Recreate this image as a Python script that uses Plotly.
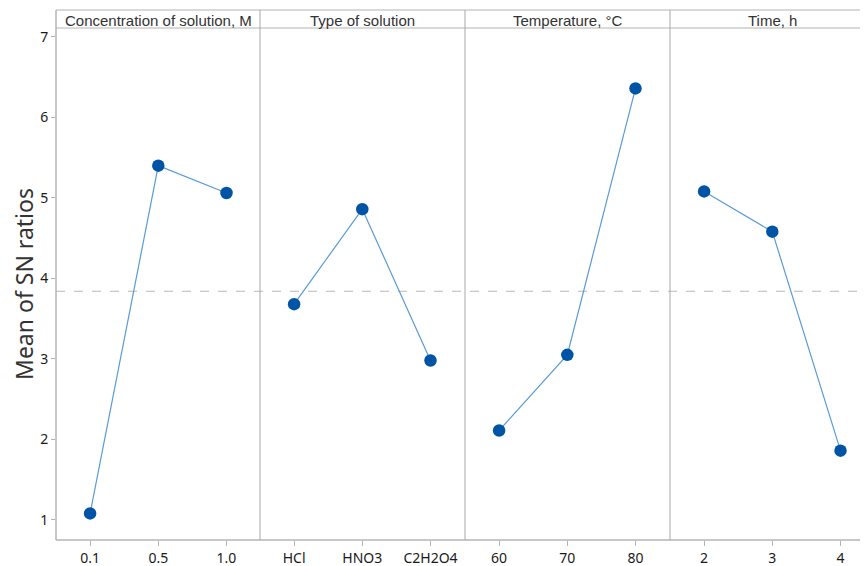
import plotly.graph_objects as go

# ---- data ----
panel_titles = ["Concentration of solution, M", "Type of solution", "Temperature, °C", "Time, h"]
conc_levels = ["0.1", "0.5", "1.0"]
conc_sn = [1.08, 5.40, 5.06]
type_levels = ["HCl", "HNO3", "C2H2O4"]
type_sn = [3.68, 4.86, 2.98]
temp_levels = ["60", "70", "80"]
temp_sn = [2.11, 3.05, 6.36]
time_levels = ["2", "3", "4"]
time_sn = [5.08, 4.58, 1.86]
overall_mean = 3.84
y_ticks = [1, 2, 3, 4, 5, 6, 7]

levels = [conc_levels, type_levels, temp_levels, time_levels]
values = [conc_sn, type_sn, temp_sn, time_sn]

# page body has an 8px default margin; compensate
OFF = 8
W, H = 868 - OFF, 566 - OFF
ML, MR, MT, MB = 56 - OFF, 0, 10 - OFF, 26
pw = W - ML - MR
ph = H - MT - MB
edges_px = [56, 260, 465, 670, 868]
dom = [((edges_px[i] - 56) / pw, (edges_px[i + 1] - 56) / pw) for i in range(4)]
header_y = (ph - 18) / ph

grid_col = "#b4b4b4"
div_col = "#a8a8a8"
font_fam = "Noto Sans, Open Sans, sans-serif"

fig = go.Figure()
for i in range(4):
    xa = "x" if i == 0 else f"x{i+1}"
    fig.add_trace(go.Scatter(
        x=levels[i], y=values[i], xaxis=xa, yaxis="y",
        mode="lines+markers",
        line=dict(color="#5b9bd5", width=1.2),
        marker=dict(color="#0054a6", size=12.5),
        showlegend=False, hoverinfo="x+y",
    ))

layout = dict(
    width=W, height=H,
    margin=dict(l=ML, r=MR, t=MT, b=MB),
    paper_bgcolor="white", plot_bgcolor="white",
    showlegend=False,
    yaxis=dict(
        domain=[0, header_y], range=[0.75, 7.11],
        tickvals=y_ticks, ticks="outside", ticklen=4, tickcolor=grid_col,
        showgrid=False, zeroline=False, showline=False,
        tickfont=dict(family=font_fam, size=14, color="#1a1a1a"),
        title=dict(text="Mean of SN ratios", font=dict(family=font_fam, size=23, color="#333"), standoff=10),
        anchor="x",
    ),
)
for i in range(4):
    key = "xaxis" if i == 0 else f"xaxis{i+1}"
    width_px = edges_px[i + 1] - edges_px[i]
    rng = [-0.5, -0.5 + width_px / 68.2]
    layout[key] = dict(
        domain=list(dom[i]), type="category", range=rng,
        anchor="y", ticks="outside", ticklen=5, tickcolor=grid_col,
        showgrid=False, zeroline=False, showline=False,
        tickfont=dict(family=font_fam, size=14, color="#1a1a1a"),
    )
fig.update_layout(**layout)

shapes = []
shapes.append(dict(type="line", xref="paper", yref="paper", x0=0, x1=1, y0=0, y1=0, line=dict(color=grid_col, width=1.5)))
shapes.append(dict(type="line", xref="paper", yref="paper", x0=0, x1=1, y0=1, y1=1, line=dict(color=grid_col, width=1)))
shapes.append(dict(type="line", xref="paper", yref="paper", x0=0, x1=1, y0=header_y, y1=header_y, line=dict(color=grid_col, width=1)))
shapes.append(dict(type="line", xref="paper", yref="paper", x0=0, x1=0, y0=0, y1=1, line=dict(color=grid_col, width=1.5)))
for i in range(1, 4):
    shapes.append(dict(type="line", xref="paper", yref="paper", x0=dom[i][0], x1=dom[i][0], y0=0, y1=1,
                       line=dict(color=div_col, width=1)))
shapes.append(dict(type="line", xref="paper", yref="y", x0=0, x1=1, y0=overall_mean, y1=overall_mean,
                   line=dict(color="#b8b8b8", width=1, dash="dash"), layer="below"))
fig.update_layout(shapes=shapes)

annotations = []
for i in range(4):
    x0 = (edges_px[i] - 56) / pw
    x1 = (edges_px[i] + 205 - 56) / pw
    annotations.append(dict(
        text=panel_titles[i], xref="paper", yref="paper", x=(x0 + x1) / 2, y=(1 + header_y) / 2,
        xanchor="center", yanchor="middle", showarrow=False, yshift=-1.5,
        font=dict(family="Liberation Sans, Arial, sans-serif", size=15, color="#333"),
    ))
fig.update_layout(annotations=annotations)

fig.write_html("out.html")
